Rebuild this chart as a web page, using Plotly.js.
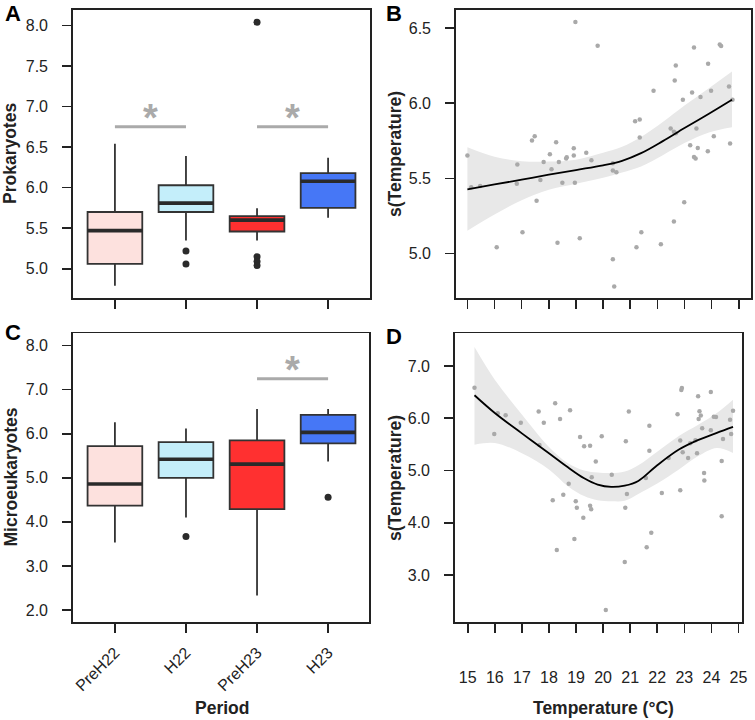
<!DOCTYPE html>
<html>
<head>
<meta charset="utf-8">
<script src="https://cdn.plot.ly/plotly-3.0.1.min.js"></script>
<style>html,body{margin:0;padding:0;background:#fff;}#chart{width:755px;height:720px;}</style>
</head>
<body>
<div id="chart"></div>
<script>
// ---------- DATA ----------
const periods = ["PreH22", "H22", "PreH23", "H23"];
const boxColors = ["#fde1de", "#c4eefa", "#ff3030", "#4677f6"];

// Panel A (Prokaryotes) box statistics
const protoLowA = [4.79, 5.35, 5.35, 5.63];
const protoQ1A  = [5.06, 5.70, 5.46, 5.75];
const protoMedA = [5.47, 5.81, 5.60, 6.08];
const protoQ3A  = [5.70, 6.03, 5.65, 6.18];
const protoHighA = [6.54, 6.39, 5.745, 6.37];
const outliersA = [[], [5.22, 5.06], [8.04, 5.15, 5.09, 5.04], []];
const sigPairsA = [[0, 1], [2, 3]];
const sigYA = [6.75, 6.75];

// Panel C (Microeukaryotes) box statistics
const microLowC = [3.53, 4.10, 2.33, 5.37];
const microQ1C  = [4.37, 5.00, 4.29, 5.78];
const microMedC = [4.86, 5.42, 5.31, 6.03];
const microQ3C  = [5.72, 5.81, 5.85, 6.43];
const microHighC = [6.26, 6.12, 6.56, 6.56];
const outliersC = [[], [3.67], [], [4.56]];
const sigPairsC = [[2, 3]];
const sigYC = [7.25];

// Panel B points
const tempB = [15.0, 15.14, 15.47, 16.08, 16.84, 16.82, 17.03, 17.38, 17.48, 17.55, 17.69, 17.81, 18.04, 18.10, 18.27, 18.32, 18.37, 18.50, 18.64, 18.66, 18.92, 18.92, 18.96, 18.98, 19.14, 19.38, 19.57, 19.80,
  20.36, 20.36, 20.49, 20.36, 20.41, 21.18, 21.35, 21.35, 21.41, 21.23, 21.86, 22.13, 22.49, 22.61, 22.68, 22.68, 22.64, 22.61, 22.94, 22.99, 23.21, 23.28, 23.35, 23.35, 23.41, 23.44, 23.49, 23.59, 23.87, 23.86, 23.98, 24.08, 24.30, 24.35, 24.64, 24.68, 24.77];
const sB = [5.652, 5.442, 5.45, 5.042, 5.592, 5.464, 5.142, 5.752, 5.781, 5.352, 5.49, 5.61, 5.661, 5.561, 5.741, 5.073, 5.61, 5.472, 5.632, 5.641, 5.70, 5.652, 5.472, 6.54, 5.102, 5.67, 5.621, 6.382,
  5.601, 5.552, 5.541, 4.962, 4.782, 5.881, 5.892, 5.772, 5.142, 5.042, 6.083, 5.062, 5.832, 5.81, 5.80, 6.251, 6.151, 5.213, 6.023, 5.342, 5.721, 6.072, 6.371, 5.643, 5.632, 5.832, 5.703, 6.041, 6.262, 5.681, 6.083, 5.781, 6.391, 6.38, 6.111, 5.732, 6.023];
// Panel B smooth fit and confidence band
const fitTB  = [15.0, 16.0, 17.0, 18.0, 19.0, 20.0, 20.7, 21.4, 22.2, 23.0, 23.9, 24.75];
const fitB   = [5.428, 5.46, 5.492, 5.525, 5.556, 5.587, 5.617, 5.668, 5.748, 5.835, 5.93, 6.023];
const fitLoB = [5.153, 5.26, 5.355, 5.425, 5.465, 5.505, 5.54, 5.58, 5.655, 5.735, 5.805, 5.84];
const fitHiB = [5.708, 5.645, 5.615, 5.612, 5.625, 5.67, 5.71, 5.775, 5.875, 5.985, 6.1, 6.211];

// Panel D points
const tempD = [15.25, 15.98, 16.11, 16.40, 16.96, 17.62, 17.65, 17.81, 18.23, 18.14, 18.29, 18.41, 18.53, 18.73, 18.78, 18.94, 18.99, 19.03, 19.15, 19.27, 19.30, 19.52, 19.52, 19.56, 19.58, 19.73, 19.95, 20.10,
  20.32, 20.84, 20.95, 20.88, 20.82, 20.80, 21.58, 21.71, 21.71, 21.78, 21.61, 22.17, 22.42, 22.75, 22.85, 22.89, 22.91, 22.85, 22.94, 23.14, 23.22, 23.41, 23.47, 23.51, 23.53, 23.56, 23.61, 23.66, 23.73, 23.74, 23.98, 23.98, 24.09, 24.17, 24.38, 24.38, 24.43, 24.69, 24.73, 24.80];
const sD = [6.585, 5.699, 6.094, 6.056, 5.915, 6.126, 5.488, 5.915, 6.286, 4.43, 3.478, 5.986, 4.537, 4.747, 6.152, 3.689, 4.41, 4.288, 5.641, 4.097, 5.463, 5.475, 4.326, 4.257, 4.869, 5.17, 5.654, 2.33,
  4.92, 5.559, 6.126, 4.55, 4.288, 3.249, 4.856, 5.857, 5.379, 3.81, 3.53, 4.569, 5.239, 6.075, 5.571, 6.541, 6.579, 4.621, 5.348, 5.239, 5.52, 5.578, 5.329, 6.42, 5.986, 6.133, 6.05, 5.807, 4.952, 4.806, 6.502, 5.769, 6.03, 6.024, 5.18, 4.123, 5.603, 5.972, 5.699, 6.145];
// Panel D smooth fit and confidence band
const fitTD  = [15.25, 16.0, 17.0, 18.0, 18.7, 19.3, 19.8, 20.3, 20.8, 21.3, 22.0, 22.8, 23.5, 24.2, 24.8];
const fitD   = [6.44, 6.10, 5.71, 5.33, 5.06, 4.85, 4.73, 4.685, 4.71, 4.80, 5.10, 5.40, 5.58, 5.72, 5.833];
const fitLoD = [5.494, 5.526, 5.33, 5.02, 4.70, 4.51, 4.43, 4.41, 4.42, 4.55, 4.75, 5.02, 5.27, 5.43, 5.335];
const fitHiD = [7.364, 6.738, 6.07, 5.45, 5.14, 5.00, 4.96, 4.95, 4.98, 5.10, 5.36, 5.66, 5.87, 6.10, 6.355];

const tempTicks = [15, 16, 17, 18, 19, 20, 21, 22, 23, 24, 25];

// ---------- STYLE ----------
const FONT = "Liberation Sans, Arial, Helvetica, sans-serif";
const INK = "#222222";
const BOXLINE = "#333333";
const BOXW = 0.77;
const SIG = "#aaaaaa";
const PT = "#a9a9a9";
const W = 755, H = 720;

const traces = [];

function addBoxes(xa, ya, low, q1, med, q3, high, outs, pairs, sigY) {
  periods.forEach((p, i) => {
    traces.push({
      type: "box", xaxis: xa, yaxis: ya, name: p, showlegend: false,
      x: [i], q1: [q1[i]], median: [med[i]], q3: [q3[i]],
      lowerfence: [low[i]], upperfence: [high[i]],
      width: BOXW, whiskerwidth: 0, boxpoints: false,
      fillcolor: boxColors[i], line: {color: BOXLINE, width: 1.8},
      hoverinfo: "skip"
    });
    traces.push({
      type: "scatter", mode: "lines", xaxis: xa, yaxis: ya, showlegend: false,
      x: [i - BOXW / 2, i + BOXW / 2], y: [med[i], med[i]],
      line: {color: "#2a2a2a", width: 3.6}, hoverinfo: "skip"
    });
    if (outs[i].length) {
      traces.push({
        type: "scatter", mode: "markers", xaxis: xa, yaxis: ya, showlegend: false,
        x: outs[i].map(() => i), y: outs[i],
        marker: {color: "#2b2b2b", size: 7}, hoverinfo: "skip"
      });
    }
  });
  pairs.forEach((pr, k) => {
    traces.push({
      type: "scatter", mode: "lines", xaxis: xa, yaxis: ya, showlegend: false,
      x: pr, y: [sigY[k], sigY[k]],
      line: {color: SIG, width: 3}, hoverinfo: "skip"
    });
  });
}

function addSmooth(xa, ya, tx, fit, lo, hi, px, py) {
  traces.push({type: "scatter", mode: "lines", xaxis: xa, yaxis: ya, showlegend: false,
    x: tx, y: lo, line: {width: 0, shape: "spline", smoothing: 1, color: "rgba(0,0,0,0)"}, hoverinfo: "skip"});
  traces.push({type: "scatter", mode: "lines", xaxis: xa, yaxis: ya, showlegend: false,
    x: tx, y: hi, fill: "tonexty", fillcolor: "#e8e8e8",
    line: {width: 0, shape: "spline", smoothing: 1, color: "rgba(0,0,0,0)"}, hoverinfo: "skip"});
  traces.push({type: "scatter", mode: "markers", xaxis: xa, yaxis: ya, showlegend: false,
    x: px, y: py, marker: {color: PT, size: 4.5}, hoverinfo: "skip"});
  traces.push({type: "scatter", mode: "lines", xaxis: xa, yaxis: ya, showlegend: false,
    x: tx, y: fit, line: {color: "#000", width: 1.8, shape: "spline", smoothing: 1}, hoverinfo: "skip"});
}

addBoxes("x", "y", protoLowA, protoQ1A, protoMedA, protoQ3A, protoHighA, outliersA, sigPairsA, sigYA);
addSmooth("x2", "y2", fitTB, fitB, fitLoB, fitHiB, tempB, sB);
addBoxes("x3", "y3", microLowC, microQ1C, microMedC, microQ3C, microHighC, outliersC, sigPairsC, sigYC);
addSmooth("x4", "y4", fitTD, fitD, fitLoD, fitHiD, tempD, sD);

// ---------- LAYOUT ----------
const px2x = v => v / W;
const px2y = v => 1 - v / H;
const tickFont = {family: FONT, size: 16, color: INK};
function axisBase(extra) {
  return Object.assign({
    showline: true, mirror: true, linecolor: INK, linewidth: 1.8,
    ticks: "outside", ticklen: 9, tickwidth: 1.6, tickcolor: INK,
    showgrid: false, zeroline: false, tickfont: tickFont, fixedrange: true
  }, extra);
}

const layout = {
  width: W, height: H, margin: {l: 0, r: 0, t: 0, b: 0},
  paper_bgcolor: "#fff", plot_bgcolor: "#fff", showlegend: false,
  font: {family: FONT, color: INK},
  xaxis: axisBase({domain: [px2x(73), px2x(370)], anchor: "y", range: [-0.59, 3.59],
    tickvals: [0, 1, 2, 3], showticklabels: false}),
  yaxis: axisBase({domain: [px2y(298), px2y(10)], anchor: "x", range: [4.64, 8.19],
    tickvals: [5, 5.5, 6, 6.5, 7, 7.5, 8], tickformat: ".1f", ticklabelstandoff: 11}),
  xaxis2: axisBase({domain: [px2x(456), px2x(750.7)], anchor: "y2", range: [14.58, 25.44],
    tickvals: tempTicks, showticklabels: false}),
  yaxis2: axisBase({domain: [px2y(297.7), px2y(10)], anchor: "x2", range: [4.707, 6.62],
    tickvals: [5, 5.5, 6, 6.5], tickformat: ".1f", ticklabelstandoff: 11}),
  xaxis3: axisBase({domain: [px2x(73), px2x(369.3)], anchor: "y3", range: [-0.59, 3.58],
    tickvals: [0, 1, 2, 3], ticktext: periods, tickangle: -45, ticklabelstandoff: 4}),
  yaxis3: axisBase({domain: [px2y(622.3), px2y(333.3)], anchor: "x3", range: [1.72, 8.28],
    tickvals: [2, 3, 4, 5, 6, 7, 8], tickformat: ".1f", ticklabelstandoff: 11}),
  xaxis4: axisBase({domain: [px2x(455), px2x(741.7)], anchor: "y4", range: [14.53, 25.12],
    tickvals: tempTicks, ticklabelstandoff: 31}),
  yaxis4: axisBase({domain: [px2y(622.3), px2y(333.3)], anchor: "x4", range: [2.094, 7.625],
    tickvals: [3, 4, 5, 6, 7], tickformat: ".1f", ticklabelstandoff: 11}),
  annotations: []
};

const titleFont = {family: FONT, size: 17.5, color: INK, weight: "bold"};
const letterFont = {family: FONT, size: 22, color: "#000", weight: "bold"};
function paperText(text, x, y, font, angle, xanchor) {
  layout.annotations.push({text: text, xref: "paper", yref: "paper", x: px2x(x), y: px2y(y),
    xanchor: xanchor || "center", yanchor: "middle", showarrow: false, font: font,
    textangle: angle || 0, borderpad: 0});
}
paperText("<b>Prokaryotes</b>", 10, 154, titleFont, -90);
paperText("<b>s(Temperature)</b>", 395, 154, titleFont, -90);
paperText("<b>Microeukaryotes</b>", 10.5, 477, titleFont, -90);
paperText("<b>s(Temperature)</b>", 395, 478, titleFont, -90);
paperText("<b>Period</b>", 221.7, 708, titleFont, 0);
paperText("<b>Temperature (°C)</b>", 603, 708, titleFont, 0);
paperText("<b>A</b>", 12.5, 13, letterFont, 0);
paperText("<b>B</b>", 393.5, 13, letterFont, 0);
paperText("<b>C</b>", 12.5, 332, letterFont, 0);
paperText("<b>D</b>", 393.5, 336, letterFont, 0);

function addStars(xa, ya, pairs, sigY) {
  pairs.forEach((pr, k) => {
    layout.annotations.push({text: "<b>*</b>", xref: xa, yref: ya, x: (pr[0] + pr[1]) / 2, y: sigY[k],
      xanchor: "center", yanchor: "bottom", yshift: -14, showarrow: false,
      font: {family: FONT, size: 38, color: SIG}});
  });
}
addStars("x", "y", sigPairsA, sigYA);
addStars("x3", "y3", sigPairsC, sigYC);

Plotly.newPlot("chart", traces, layout, {staticPlot: true, displayModeBar: false});
</script>
</body>
</html>
